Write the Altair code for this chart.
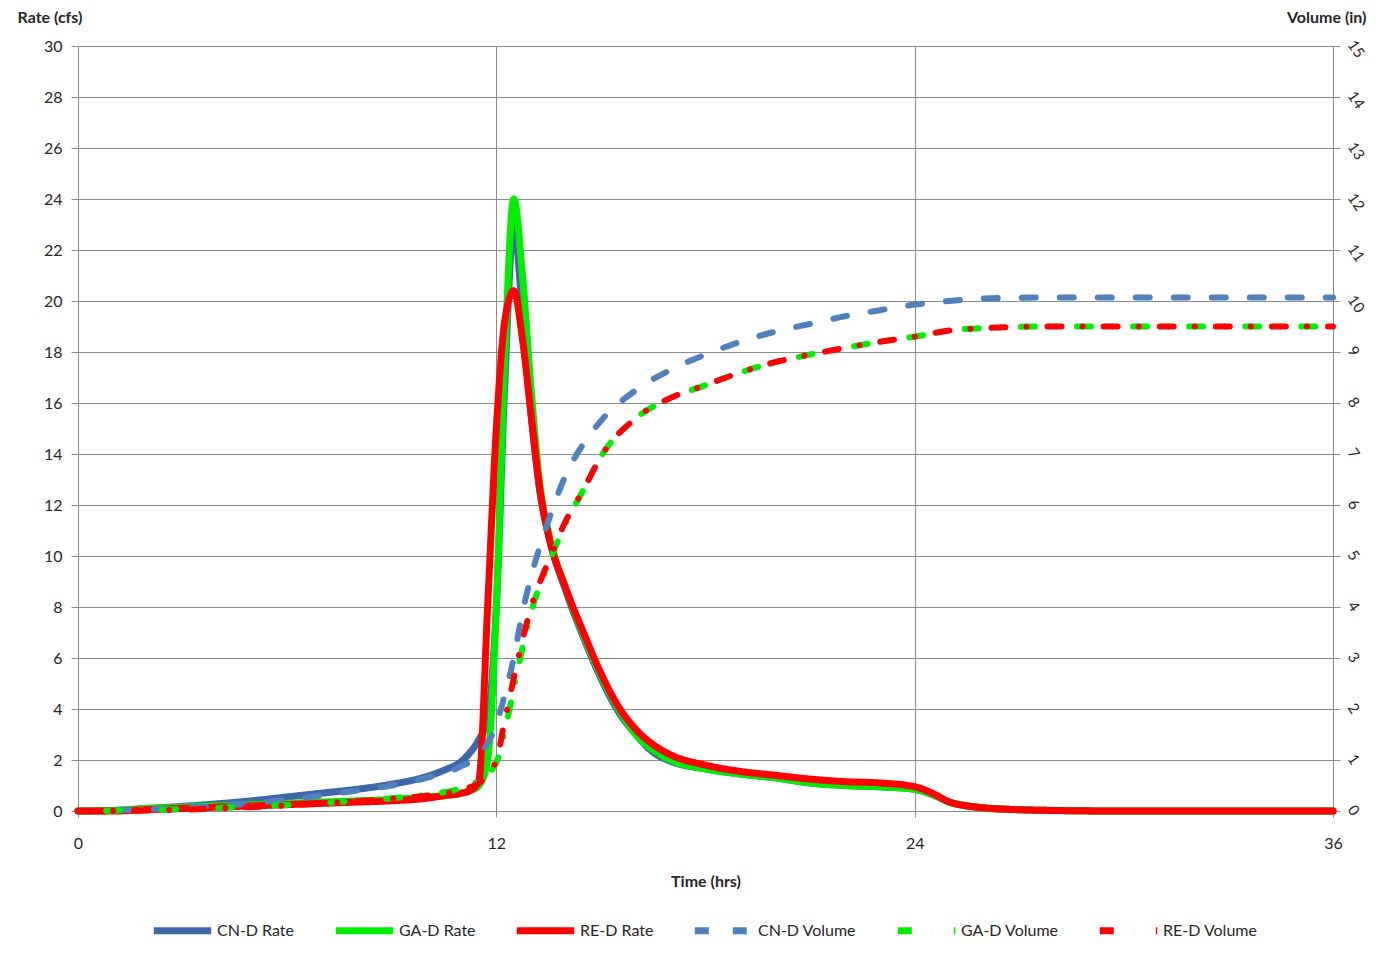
import altair as alt
import pandas as pd

# ---- data ----
rate_t = [0, 1, 2, 3, 4, 5, 6, 7, 8, 9, 10, 10.5, 11, 11.25, 11.5, 11.75, 12, 12.25, 12.5,
          12.75, 13, 13.25, 13.5, 14, 14.5, 15, 15.5, 16, 16.5, 17, 18, 19, 20, 21, 22, 23,
          24, 24.5, 25, 25.5, 26, 27, 28, 30, 32, 34, 36]
cn_rate = [0, 0.02, 0.1, 0.18, 0.28, 0.4, 0.55, 0.7, 0.85, 1.05, 1.35, 1.6, 1.95, 2.3, 2.8,
           3.6, 8.0, 17.0, 23.0, 19.5, 15.5, 12.5, 10.8, 8.6, 6.8, 5.2, 3.9, 3.0, 2.3, 1.95,
           1.65, 1.45, 1.3, 1.1, 1.0, 0.95, 0.85, 0.65, 0.35, 0.2, 0.12, 0.05, 0.02, 0, 0, 0, 0]
ga_rate = [0, 0.02, 0.1, 0.15, 0.2, 0.25, 0.3, 0.35, 0.4, 0.45, 0.55, 0.6, 0.7, 0.8, 1.0,
           2.0, 8.0, 18.0, 24.0, 21.0, 16.5, 12.8, 10.9, 8.7, 6.9, 5.3, 4.0, 3.0, 2.4, 2.0,
           1.65, 1.45, 1.3, 1.1, 1.0, 0.95, 0.85, 0.65, 0.35, 0.2, 0.12, 0.05, 0.02, 0, 0, 0, 0]
re_rate = [0, 0, 0.05, 0.1, 0.15, 0.2, 0.25, 0.3, 0.35, 0.4, 0.5, 0.6, 0.7, 0.8, 1.2,
           8.0, 15.0, 19.3, 20.4, 18.5, 15.5, 12.6, 10.8, 8.7, 7.0, 5.4, 4.1, 3.2, 2.6, 2.2,
           1.8, 1.55, 1.4, 1.25, 1.15, 1.1, 0.95, 0.7, 0.35, 0.2, 0.12, 0.05, 0.02, 0, 0, 0, 0]

vol_t = [0, 2, 4, 6, 8, 9, 10, 11, 11.5, 12, 12.25, 12.5, 12.75, 13, 13.5, 14, 14.5, 15, 16,
         17, 18, 19, 20, 21, 22, 23, 24, 25, 26, 28, 30, 32, 34, 36]
cn_vol = [0, 0.03, 0.1, 0.22, 0.4, 0.5, 0.65, 0.88, 1.1, 1.7, 2.3, 3.0, 3.9, 4.6, 5.7, 6.6,
          7.2, 7.65, 8.25, 8.65, 8.95, 9.2, 9.4, 9.55, 9.7, 9.82, 9.93, 10.0, 10.05, 10.07,
          10.07, 10.07, 10.07, 10.07]
ga_vol = [0, 0.02, 0.06, 0.12, 0.2, 0.25, 0.32, 0.45, 0.6, 0.95, 1.6, 2.4, 3.2, 3.9, 4.85,
          5.65, 6.3, 6.95, 7.7, 8.1, 8.35, 8.6, 8.8, 8.95, 9.08, 9.2, 9.3, 9.42, 9.47, 9.5,
          9.5, 9.5, 9.5, 9.5]
re_vol = [0, 0.01, 0.05, 0.11, 0.19, 0.24, 0.3, 0.42, 0.55, 1.0, 1.8, 2.6, 3.35, 4.0, 4.9,
          5.7, 6.3, 6.95, 7.7, 8.1, 8.35, 8.6, 8.8, 8.95, 9.08, 9.2, 9.3, 9.42, 9.47, 9.5,
          9.5, 9.5, 9.5, 9.5]

series_names = ["CN-D Rate", "GA-D Rate", "RE-D Rate", "CN-D Volume", "GA-D Volume", "RE-D Volume"]
series_colors = ["#3F66A8", "#00EE00", "#FF0000", "#4F81BD", "#00EE00", "#FF0000"]
series_dash = [[1, 0], [1, 0], [1, 0], [14, 24], [14, 21, 0.1, 21], [14, 21, 0.1, 21]]

FONT = "Lato"
GRID = "#8c8c8c"

x_scale = alt.Scale(domain=[0, 36], nice=False, zero=False)
x_axis = alt.Axis(values=[0, 12, 24, 36], title="Time (hrs)", grid=True, gridColor=GRID,
                  domainColor=GRID, tickColor=GRID, tickSize=6, labelPadding=18,
                  labelFlush=False, titlePadding=22, labelFontSize=16, titleFontSize=16,
                  titleFontWeight="bold")

rate_scale = alt.Scale(domain=[0, 30], nice=False)
rate_axis = alt.Axis(values=list(range(0, 31, 2)), title="Rate (cfs)", titleAngle=0,
                     titleAlign="left", titleX=-61, titleY=-24, titleBaseline="alphabetic",
                     grid=True, gridColor=GRID, domainColor=GRID, tickColor=GRID, tickSize=7,
                     labelPadding=9, labelFlush=False, labelFontSize=16, titleFontSize=16,
                     titleFontWeight="bold")
vol_scale = alt.Scale(domain=[0, 15], nice=False)
vol_axis = alt.Axis(values=list(range(0, 16)), title="Volume (in)", orient="right",
                    titleAngle=0, titleAlign="right", titleX=33, titleY=-24,
                    titleBaseline="alphabetic", grid=False, domainColor=GRID, tickColor=GRID,
                    tickSize=7, labelPadding=4, labelFlush=False, labelAngle=55,
                    labelFontSize=15, titleFontSize=16, titleFontWeight="bold")

legend = alt.Legend(title=None, orient="none", legendX=72, legendY=852, direction="horizontal",
                    columns=6, symbolType="stroke", symbolSize=3300, symbolStrokeWidth=7,
                    labelFontSize=16, labelOffset=2, columnPadding=26, labelLimit=300)
color_scale = alt.Scale(domain=series_names, range=series_colors)
dash_scale = alt.Scale(domain=series_names, range=series_dash)


def make_line(times, values, name, ycol, yscale, yaxis, width, offset=0):
    df = pd.DataFrame({"t": times, ycol: values, "series": name})
    return alt.Chart(df).mark_line(strokeWidth=width, strokeCap="round", strokeDashOffset=offset,
                                   interpolate="monotone").encode(
        x=alt.X("t:Q", scale=x_scale, axis=x_axis),
        y=alt.Y(f"{ycol}:Q", scale=yscale, axis=yaxis),
        color=alt.Color("series:N", scale=color_scale, legend=legend),
        strokeDash=alt.StrokeDash("series:N", scale=dash_scale, legend=legend),
    )


rates = alt.layer(
    make_line(rate_t, cn_rate, "CN-D Rate", "rate", rate_scale, rate_axis, 7),
    make_line(rate_t, ga_rate, "GA-D Rate", "rate", rate_scale, rate_axis, 7),
    make_line(rate_t, re_rate, "RE-D Rate", "rate", rate_scale, rate_axis, 7),
)
vols = alt.layer(
    make_line(vol_t, cn_vol, "CN-D Volume", "vol", vol_scale, vol_axis, 6),
    make_line(vol_t, ga_vol, "GA-D Volume", "vol", vol_scale, vol_axis, 6, 28),
    make_line(vol_t, re_vol, "RE-D Volume", "vol", vol_scale, vol_axis, 6),
)

chart = alt.layer(rates, vols).resolve_scale(y="independent").properties(
    width=1255, height=765,
    padding={"left": 70, "top": 38, "right": 37, "bottom": 140},
    autosize=alt.AutoSizeParams(type="none"),
).configure(font=FONT).configure_axis(
    labelFont=FONT, titleFont=FONT, labelColor="#262626", titleColor="#262626"
).configure_legend(labelFont=FONT, labelColor="#262626").configure_view(stroke=None)

chart.save("out.html", embed_options={"renderer": "svg", "actions": False})
